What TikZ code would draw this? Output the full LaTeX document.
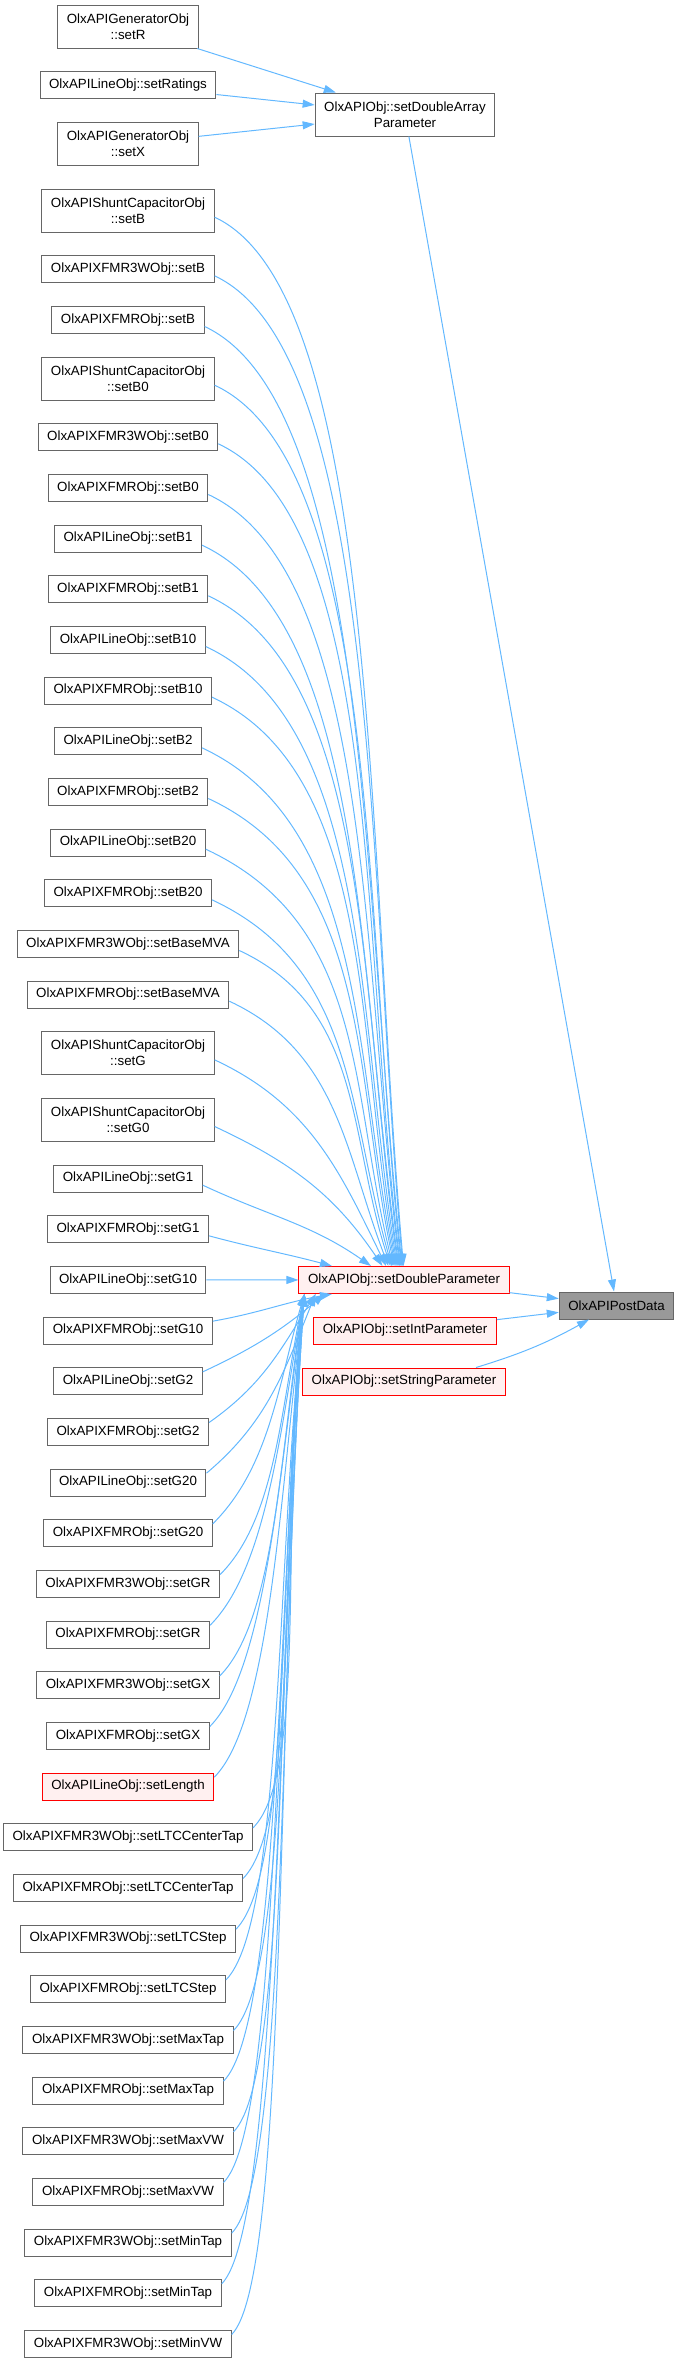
\documentclass[tikz,border=0pt]{standalone}
\usepackage{fontspec}
\setmainfont{Liberation Sans}
\usepackage{tikz}
\usetikzlibrary{arrows.meta,positioning}
\definecolor{callblue}{RGB}{99,184,255}
\definecolor{boxgray}{RGB}{102,102,102}
\definecolor{linkred}{RGB}{255,0,0}
\definecolor{softred}{RGB}{255,240,240}
\definecolor{curgray}{RGB}{153,153,153}
\tikzset{
  fnbox/.style={draw=boxgray,fill=white,line width=0.75pt,minimum height=20.25pt,
    align=center,inner xsep=6.8pt,inner ysep=2pt,font=\fontsize{10}{12}\selectfont},
  fnboxtwo/.style={fnbox,minimum height=32.25pt},
  fnboxr/.style={fnbox,draw=linkred,fill=softred},
  fnboxcur/.style={fnbox,fill=curgray},
  callflow/.style={-{Triangle[length=9pt,width=6pt]},line width=0.75pt,draw=callblue},
  fromabove/.style={out=-25,out max distance=135pt},
  frombelow/.style={out max distance=60pt}
}
\begin{document}
\begin{tikzpicture}[x=0.75pt,y=0.75pt,node distance=17pt]
  \useasboundingbox (0,0) rectangle (677,-2363);
  % callers, one column
  \node[fnboxtwo] (genR) at (128,-26.5) {OlxAPIGeneratorObj\\::setR};
  \node[fnbox,below=of genR] (lnRatings) {OlxAPILineObj::setRatings};
  \node[fnboxtwo,below=of lnRatings] (genX) {OlxAPIGeneratorObj\\::setX};
  \node[fnboxtwo,below=of genX] (scB) {OlxAPIShuntCapacitorObj\\::setB};
  \node[fnbox,below=of scB] (x3B) {OlxAPIXFMR3WObj::setB};
  \node[fnbox,below=of x3B] (xB) {OlxAPIXFMRObj::setB};
  \node[fnboxtwo,below=of xB] (scB0) {OlxAPIShuntCapacitorObj\\::setB0};
  \node[fnbox,below=of scB0] (x3B0) {OlxAPIXFMR3WObj::setB0};
  \node[fnbox,below=of x3B0] (xB0) {OlxAPIXFMRObj::setB0};
  \node[fnbox,below=of xB0] (lnB1) {OlxAPILineObj::setB1};
  \node[fnbox,below=of lnB1] (xB1) {OlxAPIXFMRObj::setB1};
  \node[fnbox,below=of xB1] (lnB10) {OlxAPILineObj::setB10};
  \node[fnbox,below=of lnB10] (xB10) {OlxAPIXFMRObj::setB10};
  \node[fnbox,below=of xB10] (lnB2) {OlxAPILineObj::setB2};
  \node[fnbox,below=of lnB2] (xB2) {OlxAPIXFMRObj::setB2};
  \node[fnbox,below=of xB2] (lnB20) {OlxAPILineObj::setB20};
  \node[fnbox,below=of lnB20] (xB20) {OlxAPIXFMRObj::setB20};
  \node[fnbox,below=of xB20] (x3MVA) {OlxAPIXFMR3WObj::setBaseMVA};
  \node[fnbox,below=of x3MVA] (xMVA) {OlxAPIXFMRObj::setBaseMVA};
  \node[fnboxtwo,below=of xMVA] (scG) {OlxAPIShuntCapacitorObj\\::setG};
  \node[fnboxtwo,below=of scG] (scG0) {OlxAPIShuntCapacitorObj\\::setG0};
  \node[fnbox,below=of scG0] (lnG1) {OlxAPILineObj::setG1};
  \node[fnbox,below=of lnG1] (xG1) {OlxAPIXFMRObj::setG1};
  \node[fnbox,below=of xG1] (lnG10) {OlxAPILineObj::setG10};
  \node[fnbox,below=of lnG10] (xG10) {OlxAPIXFMRObj::setG10};
  \node[fnbox,below=of xG10] (lnG2) {OlxAPILineObj::setG2};
  \node[fnbox,below=of lnG2] (xG2) {OlxAPIXFMRObj::setG2};
  \node[fnbox,below=of xG2] (lnG20) {OlxAPILineObj::setG20};
  \node[fnbox,below=of lnG20] (xG20) {OlxAPIXFMRObj::setG20};
  \node[fnbox,below=of xG20] (x3GR) {OlxAPIXFMR3WObj::setGR};
  \node[fnbox,below=of x3GR] (xGR) {OlxAPIXFMRObj::setGR};
  \node[fnbox,below=of xGR] (x3GX) {OlxAPIXFMR3WObj::setGX};
  \node[fnbox,below=of x3GX] (xGX) {OlxAPIXFMRObj::setGX};
  \node[fnboxr,below=of xGX] (lnLen) {OlxAPILineObj::setLength};
  \node[fnbox,below=of lnLen] (x3LTCct) {OlxAPIXFMR3WObj::setLTCCenterTap};
  \node[fnbox,below=of x3LTCct] (xLTCct) {OlxAPIXFMRObj::setLTCCenterTap};
  \node[fnbox,below=of xLTCct] (x3LTCstep) {OlxAPIXFMR3WObj::setLTCStep};
  \node[fnbox,below=of x3LTCstep] (xLTCstep) {OlxAPIXFMRObj::setLTCStep};
  \node[fnbox,below=of xLTCstep] (x3MaxTap) {OlxAPIXFMR3WObj::setMaxTap};
  \node[fnbox,below=of x3MaxTap] (xMaxTap) {OlxAPIXFMRObj::setMaxTap};
  \node[fnbox,below=of xMaxTap] (x3MaxVW) {OlxAPIXFMR3WObj::setMaxVW};
  \node[fnbox,below=of x3MaxVW] (xMaxVW) {OlxAPIXFMRObj::setMaxVW};
  \node[fnbox,below=of xMaxVW] (x3MinTap) {OlxAPIXFMR3WObj::setMinTap};
  \node[fnbox,below=of x3MinTap] (xMinTap) {OlxAPIXFMRObj::setMinTap};
  \node[fnbox,below=of xMinTap] (x3MinVW) {OlxAPIXFMR3WObj::setMinVW};
  % setters and the posting call
  \node[fnboxtwo] (dblarr) at (405,-114.5) {OlxAPIObj::setDoubleArray\\Parameter};
  \node[fnboxr] (dblpar) at (404,-1280) {OlxAPIObj::setDoubleParameter};
  \node[fnboxr] (intpar) at (405,-1330.5) {OlxAPIObj::setIntParameter};
  \node[fnboxr] (strpar) at (404,-1381.5) {OlxAPIObj::setStringParameter};
  \node[fnboxcur] (postdata) at (616.5,-1305.5) {OlxAPIPostData};
  \draw[callflow] (genR) -- (dblarr);
  \draw[callflow] (lnRatings) -- (dblarr);
  \draw[callflow] (genX) -- (dblarr);
  \draw[callflow] (dblarr) -- (postdata);
  \draw[callflow] (dblpar) -- (postdata);
  \draw[callflow] (intpar) -- (postdata);
  \draw[callflow] (strpar.11) to[bend right=6] (postdata.207);
  % fan from above
  \draw[callflow] ([yshift=-5pt]scB.east) to[fromabove,in=95] (dblpar.92);
  \draw[callflow] ([yshift=-5pt]x3B.east) to[fromabove,in=95] (dblpar.95);
  \draw[callflow] ([yshift=-5pt]xB.east) to[fromabove,in=96] (dblpar.98);
  \draw[callflow] ([yshift=-5pt]scB0.east) to[fromabove,in=96] (dblpar.101);
  \draw[callflow] ([yshift=-5pt]x3B0.east) to[fromabove,in=97] (dblpar.104);
  \draw[callflow] ([yshift=-5pt]xB0.east) to[fromabove,in=97] (dblpar.107);
  \draw[callflow] ([yshift=-5pt]lnB1.east) to[fromabove,in=98] (dblpar.110);
  \draw[callflow] ([yshift=-5pt]xB1.east) to[fromabove,in=98] (dblpar.113);
  \draw[callflow] ([yshift=-5pt]lnB10.east) to[fromabove,in=99] (dblpar.116);
  \draw[callflow] ([yshift=-5pt]xB10.east) to[fromabove,in=100] (dblpar.119);
  \draw[callflow] ([yshift=-5pt]lnB2.east) to[fromabove,in=101] (dblpar.122);
  \draw[callflow] ([yshift=-5pt]xB2.east) to[fromabove,in=102] (dblpar.125);
  \draw[callflow] ([yshift=-5pt]lnB20.east) to[fromabove,in=104] (dblpar.128);
  \draw[callflow] ([yshift=-5pt]xB20.east) to[fromabove,in=106] (dblpar.131);
  \draw[callflow] ([yshift=-5pt]x3MVA.east) to[fromabove,in=108] (dblpar.134);
  \draw[callflow] ([yshift=-5pt]xMVA.east) to[fromabove,in=111] (dblpar.138);
  \draw[callflow] ([yshift=-5pt]scG.east) to[fromabove,in=116] (dblpar.142);
  \draw[callflow] ([yshift=-5pt]scG0.east) to[fromabove,in=124] (dblpar.147);
  \draw[callflow] ([yshift=-5pt]lnG1.east) to[fromabove,in=145] (dblpar.157);
  \draw[callflow] ([yshift=-5pt]xG1.east) to[out=-15,in=165] (dblpar.169);
  \draw[callflow] (lnG10) -- (dblpar);
  % fan from below
  \draw[callflow] ([yshift=7pt]xG10.east) to[frombelow,out=10,in=-170] (dblpar.191);
  \draw[callflow] ([yshift=7pt]lnG2.east) to[frombelow,out=25,in=-140] (dblpar.190);
  \draw[callflow] ([yshift=7pt]xG2.east) to[frombelow,out=35,in=-122] (dblpar.189.5);
  \draw[callflow] ([yshift=7pt]lnG20.east) to[frombelow,out=40,in=-112] (dblpar.189);
  \draw[callflow] ([yshift=7pt]xG20.east) to[frombelow,out=45,in=-106] (dblpar.188.5);
  \draw[callflow] ([yshift=7pt]x3GR.east) to[frombelow,out=45,in=-102] (dblpar.188.5);
  \draw[callflow] ([yshift=7pt]xGR.east) to[frombelow,out=45,in=-100] (dblpar.188);
  \draw[callflow] ([yshift=7pt]x3GX.east) to[frombelow,out=45,in=-99] (dblpar.188.5);
  \draw[callflow] ([yshift=7pt]xGX.east) to[frombelow,out=45,in=-98] (dblpar.188);
  \draw[callflow] ([yshift=7pt]lnLen.east) to[frombelow,out=45,in=-97] (dblpar.188.5);
  \draw[callflow] ([yshift=7pt]x3LTCct.east) to[frombelow,out=45,in=-97] (dblpar.188);
  \draw[callflow] ([yshift=7pt]xLTCct.east) to[frombelow,out=45,in=-96] (dblpar.188.5);
  \draw[callflow] ([yshift=7pt]x3LTCstep.east) to[frombelow,out=45,in=-96] (dblpar.188);
  \draw[callflow] ([yshift=7pt]xLTCstep.east) to[frombelow,out=45,in=-96] (dblpar.188.5);
  \draw[callflow] ([yshift=7pt]x3MaxTap.east) to[frombelow,out=45,in=-95] (dblpar.188);
  \draw[callflow] ([yshift=7pt]xMaxTap.east) to[frombelow,out=45,in=-95] (dblpar.188.5);
  \draw[callflow] ([yshift=7pt]x3MaxVW.east) to[frombelow,out=45,in=-95] (dblpar.188);
  \draw[callflow] ([yshift=7pt]xMaxVW.east) to[frombelow,out=45,in=-95] (dblpar.188.5);
  \draw[callflow] ([yshift=7pt]x3MinTap.east) to[frombelow,out=45,in=-94] (dblpar.188);
  \draw[callflow] ([yshift=7pt]xMinTap.east) to[frombelow,out=45,in=-94] (dblpar.188.5);
  \draw[callflow] ([yshift=7pt]x3MinVW.east) to[frombelow,out=45,in=-94] (dblpar.188);
\end{tikzpicture}
\end{document}
